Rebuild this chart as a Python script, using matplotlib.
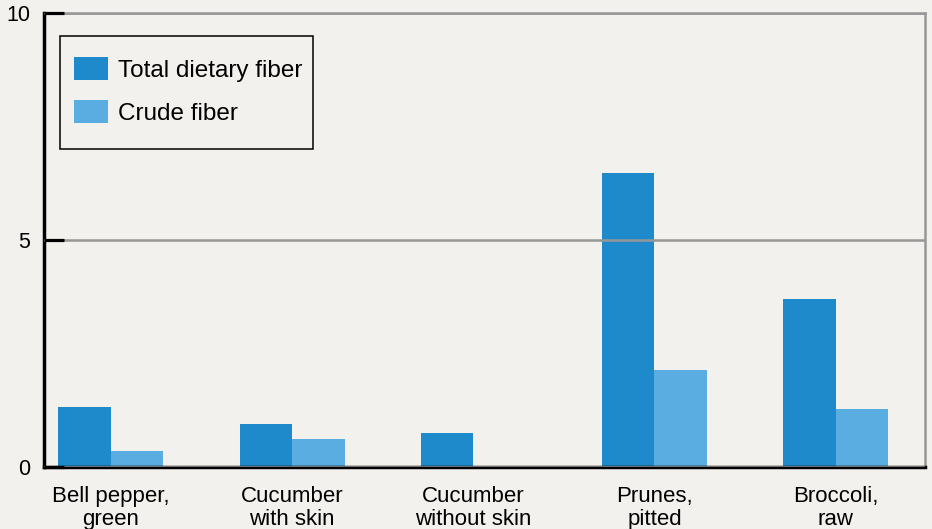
import matplotlib.pyplot as plt
from matplotlib.patches import Rectangle
import numpy as np

plt.rcParams['font.family'] = ['Liberation Sans', 'DejaVu Sans']

foods = ["Bell pepper,\ngreen", "Cucumber\nwith skin", "Cucumber\nwithout skin",
         "Prunes,\npitted", "Broccoli,\nraw"]
total_fiber = [1.31, 0.94, 0.75, 6.48, 3.70]
crude_fiber = [0.36, 0.62, 0.0, 2.14, 1.28]   # no crude value for cucumber w/o skin

bg = "#f3f1ee"
dark_blue = "#1e89cb"
light_blue = "#5aade0"
grey = "#979797"

fig = plt.figure(figsize=(9.32, 5.29), dpi=100, facecolor=bg)
ax = fig.add_axes([44/932, 62/529, 881/932, 454.3/529], facecolor=bg)

x = np.arange(len(foods))
w = 0.29
ax.bar(x - w/2, total_fiber, w, color=dark_blue, label="Total dietary fiber", zorder=2)
crude_x = [xi + w/2 for xi, v in zip(x, crude_fiber) if v > 0]
crude_v = [v for v in crude_fiber if v > 0]
ax.bar(crude_x, crude_v, w, color=light_blue, label="Crude fiber", zorder=2)

ax.set_xlim(-0.369, 4.493)
ax.set_ylim(0, 10)
ax.set_yticks([0, 5, 10])
ax.set_xticks(x)
ax.set_xticklabels(foods, fontsize=16, linespacing=1.12)

ax.yaxis.grid(True, color=grey, linewidth=1.8, zorder=0)
ax.set_axisbelow(True)

ax.tick_params(axis='y', direction='in', length=14.5, width=2.3, color='black',
               labelsize=15.5, pad=10)
ax.tick_params(axis='x', length=0, pad=14)

for side in ['left', 'bottom']:
    ax.spines[side].set_linewidth(2.5)
    ax.spines[side].set_color('black')
    ax.spines[side].set_zorder(4)
for side in ['top', 'right']:
    ax.spines[side].set_linewidth(1.8)
    ax.spines[side].set_color(grey)
    ax.spines[side].set_zorder(1)
ax.yaxis.set_zorder(5)

leg = ax.legend(loc='upper left', bbox_to_anchor=(74/932, 1 - 57/529),
                bbox_transform=fig.transFigure, borderaxespad=0, borderpad=0,
                fontsize=17.5, frameon=False, handlelength=1.4,
                handleheight=1.1, handletextpad=0.42, labelspacing=0.75)

# legend box drawn separately, it is taller than the default padding allows
fig.patches.append(Rectangle((60/932, 1 - 149/529), 253/932, 113/529,
                             transform=fig.transFigure, fill=False,
                             edgecolor='black', linewidth=1.1, zorder=6))

fig.savefig("out.png", dpi=100, facecolor=bg)
